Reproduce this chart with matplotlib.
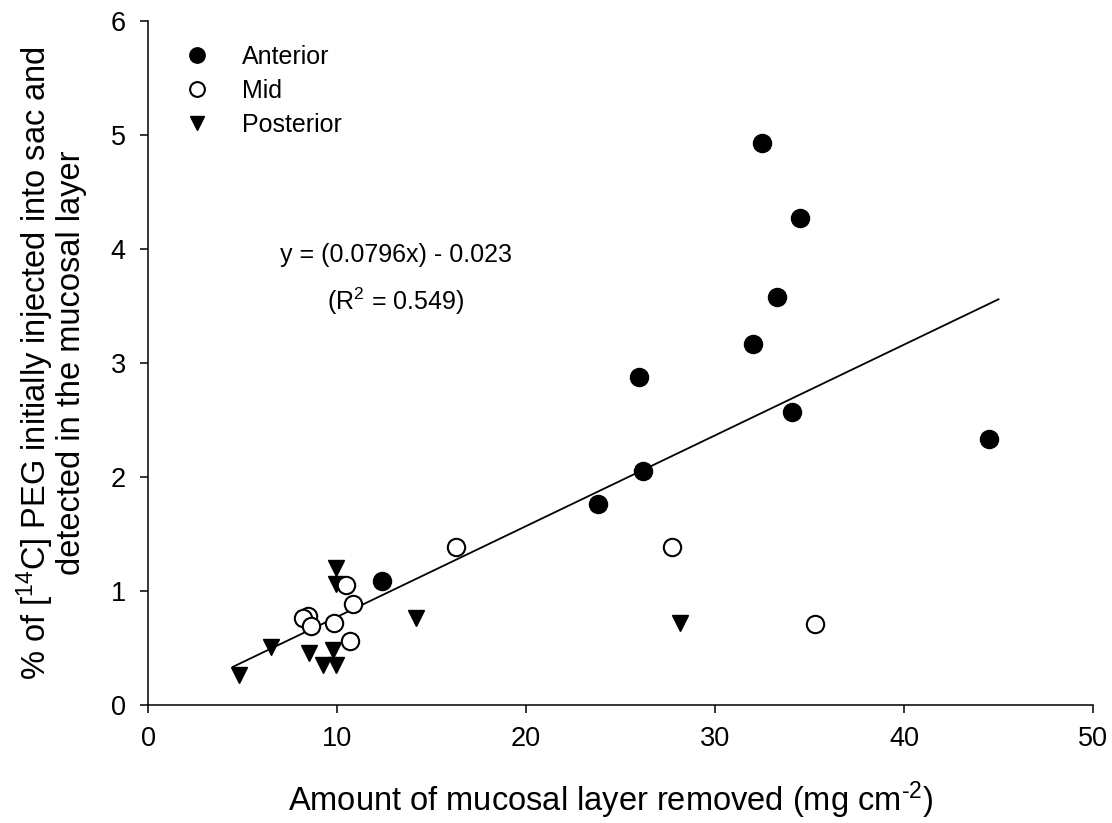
import matplotlib.pyplot as plt
import numpy as np

plt.rcParams['font.family'] = ['Liberation Sans', 'DejaVu Sans']
plt.rcParams['mathtext.fontset'] = 'custom'
plt.rcParams['mathtext.rm'] = 'Liberation Sans'
plt.rcParams['mathtext.it'] = 'Liberation Sans'

# Anterior, Mid, Posterior: mucosal layer removed (mg cm-2) vs % PEG detected
ant_x = [32.5, 34.5, 33.3, 32.0, 26.0, 34.1, 44.5, 26.2, 23.8, 12.4]
ant_y = [4.93, 4.27, 3.58, 3.17, 2.88, 2.57, 2.33, 2.05, 1.76, 1.09]

mid_x = [16.3, 27.7, 10.5, 10.85, 8.48, 8.22, 8.62, 9.86, 10.69, 35.3]
mid_y = [1.39, 1.39, 1.05, 0.89, 0.78, 0.76, 0.69, 0.72, 0.56, 0.71]

post_x = [9.95, 9.95, 6.5, 8.54, 9.77, 9.24, 9.97, 4.8, 14.2, 28.15]
post_y = [1.20, 1.06, 0.51, 0.46, 0.48, 0.35, 0.35, 0.26, 0.76, 0.72]

slope, intercept = 0.0796, -0.023
fit_x = np.array([4.5, 45.0])

fig = plt.figure(figsize=(11.12, 8.23), dpi=100)
ax = fig.add_axes([148 / 1112, 1 - 705 / 823, (1093 - 148) / 1112, (705 - 21) / 823])

ax.plot(fit_x, slope * fit_x + intercept, color='black', lw=1.3, zorder=1)

ax.plot(post_x, post_y, 'v', ms=12, color='black', mec='black', ls='none',
        label='Posterior', zorder=3, clip_on=False)
ax.plot(mid_x, mid_y, 'o', ms=12.5, mfc='white', mec='black', mew=1.5, ls='none',
        label='Mid', zorder=3, clip_on=False)
ax.plot(ant_x, ant_y, 'o', ms=13, color='black', ls='none',
        label='Anterior', zorder=3, clip_on=False)

h, l = ax.get_legend_handles_labels()
leg = ax.legend(h[::-1], l[::-1], loc='upper left', frameon=False, fontsize=18,
                bbox_to_anchor=(0.004, 1.002), handletextpad=1.0, labelspacing=0.4,
                markerscale=0.85, handlelength=1.6, borderaxespad=0.6)

ax.text(13.1, 3.95, 'y = (0.0796x) - 0.023', ha='center', va='center', fontsize=18)
ax.text(13.1, 3.54, r'(R$^2$ = 0.549)', ha='center', va='center', fontsize=18)

ax.set_xlim(0, 50)
ax.set_ylim(0, 6)
ax.set_xticks(np.arange(0, 51, 10))
ax.set_yticks(np.arange(0, 7, 1))
ax.tick_params(direction='out', length=6, width=1.1, labelsize=19.5)
ax.tick_params(axis='x', pad=9)
ax.tick_params(axis='y', pad=10)
for s in ['top', 'right']:
    ax.spines[s].set_visible(False)
for s in ['left', 'bottom']:
    ax.spines[s].set_linewidth(1.1)

ax.set_xlabel('Amount of mucosal layer removed (mg cm$^{\u20102}$)', fontsize=23.5)
ax.xaxis.set_label_coords(0.49, -0.139, transform=ax.transAxes)
ax.xaxis.label.set_va('center')
ax.set_ylabel('% of [$^{14}$C] PEG initially injected into sac and\ndetected in the mucosal layer',
              fontsize=23.5, labelpad=17, linespacing=1.0)

plt.savefig('out.png', dpi=100)
